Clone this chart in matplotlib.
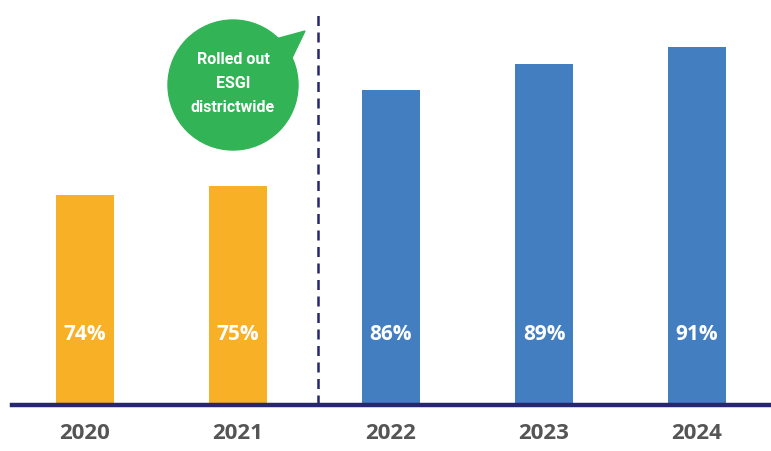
import matplotlib
matplotlib.use('Agg')
import matplotlib.pyplot as plt
from matplotlib.patches import Circle, Polygon

years = ['2020', '2021', '2022', '2023', '2024']
values = [74, 75, 86, 89, 91]
colors = ['#f8b026', '#f8b026', '#437ec0', '#437ec0', '#437ec0']
note = 'Rolled out\nESGI\ndistrictwide'

NAVY = '#27276f'
GREEN = '#32b456'
Y0 = 49.8      # value at the baseline
PXU = 8.69     # pixels per percentage point

fig = plt.figure(figsize=(7.71, 4.51), dpi=100)
ax = fig.add_axes([12 / 771, 46 / 451, 758 / 771, 405 / 451])

x = range(len(years))
ax.bar(x, values, width=0.38, color=colors, zorder=2)
for xi, v in zip(x, values):
    ax.text(xi, Y0 + (405 - 334) / PXU, f'{v}%', ha='center', va='center',
            color='white', fontsize=15, fontweight='bold', family='Open Sans', zorder=3)

ax.set_xlim(-0.477, 4.477)
ax.set_ylim(Y0, Y0 + 405 / PXU)

# separator between before/after rollout
ax.plot([1.523, 1.523], [Y0, Y0 + 395 / PXU], color=NAVY, lw=1.8,
        ls=(0, (4, 2.6)), zorder=1)

for s in ['top', 'right', 'left']:
    ax.spines[s].set_visible(False)
ax.spines['bottom'].set_color(NAVY)
ax.spines['bottom'].set_linewidth(3.2)
ax.set_yticks([])
ax.set_xticks(list(x))
ax.set_xticklabels(years, fontsize=16, fontweight='bold', color='#555555', family='Open Sans')
ax.tick_params(axis='x', length=0, pad=13)

# speech bubble, drawn in inches so it stays round
tr = fig.dpi_scale_trans
def px(xp, yp):
    return (xp / 100, (451 - yp) / 100)
fig.patches.append(Circle(px(233, 85), 0.65, transform=tr, color=GREEN, zorder=5))
fig.patches.append(Polygon([px(272, 40), px(305, 31), px(290, 62)], closed=True,
                           transform=tr, color=GREEN, zorder=5))
fig.text(233 / 771, 1 - 83 / 451, note, ha='center', va='center', color='white',
         fontsize=11.5, fontweight='bold', family='Roboto', linespacing=1.75, zorder=6)

fig.savefig('out.png', dpi=100)
plt.close(fig)
